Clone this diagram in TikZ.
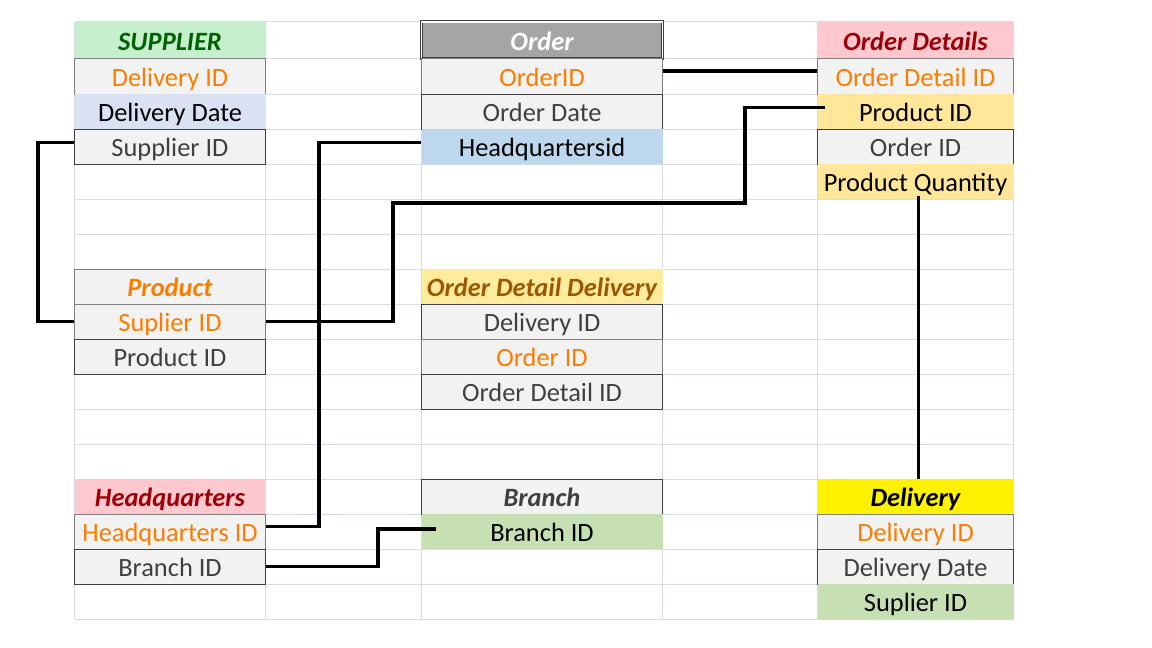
\documentclass[tikz,border=0pt]{standalone}
\usepackage{fontspec}
\setmainfont{Carlito}

\definecolor{gridline}{HTML}{D5DCE6}
\definecolor{cellGray}{HTML}{F2F2F2}
\definecolor{calcBorder}{HTML}{7F7F7F}
\definecolor{calcOrange}{HTML}{FA7D00}
\definecolor{outBorder}{HTML}{3F3F3F}
\definecolor{outText}{HTML}{3F3F3F}
\definecolor{goodFill}{HTML}{C6EFCE}
\definecolor{goodText}{HTML}{006100}
\definecolor{badFill}{HTML}{FFC7CE}
\definecolor{badText}{HTML}{9C0006}
\definecolor{neutralFill}{HTML}{FFEB9C}
\definecolor{neutralText}{HTML}{9C5700}
\definecolor{checkFill}{HTML}{A5A5A5}
\definecolor{paleBlue}{HTML}{D9E1F2}
\definecolor{midBlue}{HTML}{BDD7EE}
\definecolor{paleGold}{HTML}{FFE699}
\definecolor{paleGreen}{HTML}{C6E0B4}

\tikzset{
  cell/.style={inner sep=0pt, minimum height=26.25pt, text height=19pt, text depth=4.2pt,
    font=\fontsize{19.8}{22}\selectfont},
  hdr/.style={font=\fontsize{19.8}{22}\selectfont\bfseries\itshape},
  tallA/.style={minimum height=27.4pt},
  tallB/.style={minimum height=27pt},
  colA/.style={minimum width=143.25pt},
  colC/.style={minimum width=180.75pt},
  colE/.style={minimum width=147pt},
  calc/.style={fill=cellGray, draw=calcBorder, line width=0.75pt, text=calcOrange},
  outp/.style={fill=cellGray, draw=outBorder, line width=0.75pt, text=outText},
  link/.style={line width=2.5pt, black},
}

\begin{document}
\begin{tikzpicture}[x=0.75pt, y=-0.75pt]
    \useasboundingbox (0,0) rectangle (1152,648);

    % sheet grid
    \foreach \gx in {74.5,265.5,421.5,662.5,817.5,1013.5}
        \draw[gridline, line width=0.75pt] (\gx,22) -- (\gx,619.3);
    \draw[gridline, line width=0.75pt] (74.5,22) -- (1013.5,22);
    \draw[gridline, line width=0.75pt] (74.5,58.3) -- (1013.5,58.3);
    \foreach \r in {0,...,15}
        \draw[gridline, line width=0.75pt] (74.5,{94.3+35*\r}) -- (1013.5,{94.3+35*\r});

    % SUPPLIER
    \node[cell, colA, tallA, hdr, fill=goodFill, text=goodText] (supHead) at (170,40.2) {SUPPLIER};
    \node[cell, colA, tallB, calc] (supDelId) at (170,76.3) {Delivery ID};
    \node[cell, colA, fill=paleBlue] (supDelDate) at (170,111.8) {Delivery Date};
    \node[cell, colA, outp] (supSupId) at (170,146.8) {Supplier ID};

    % Order
    \node[cell, colC, tallA, hdr, fill=checkFill, text=white, draw=outBorder, line width=0.6pt,
          double=white, double distance=1pt] (ordHead) at (542,40.2) {Order};
    \node[cell, colC, tallB, calc] (ordId) at (542,76.3) {OrderID};
    \node[cell, colC, outp] (ordDate) at (542,111.8) {Order Date};
    \node[cell, colC, fill=midBlue] (ordHq) at (542,146.8) {Headquartersid};

    % Order Details
    \node[cell, colE, tallA, hdr, fill=badFill, text=badText] (odHead) at (915.5,40.2) {Order Details};
    \node[cell, colE, tallB, calc] (odId) at (915.5,76.3) {Order Detail ID};
    \node[cell, colE, fill=paleGold] (odProd) at (915.5,111.8) {Product ID};
    \node[cell, colE, outp] (odOrd) at (915.5,146.8) {Order ID};
    \node[cell, colE, fill=paleGold] (odQty) at (915.5,181.8) {Product Quantity};

    % Product
    \node[cell, colA, hdr, calc] (prHead) at (170,286.8) {Product};
    \node[cell, colA, calc] (prSup) at (170,321.8) {Suplier ID};
    \node[cell, colA, outp] (prId) at (170,356.8) {Product ID};

    % Order Detail Delivery
    \node[cell, colC, hdr, fill=neutralFill, text=neutralText] (oddHead) at (542,286.8) {Order Detail Delivery};
    \node[cell, colC, outp] (oddDel) at (542,321.8) {Delivery ID};
    \node[cell, colC, calc] (oddOrd) at (542,356.8) {Order ID};
    \node[cell, colC, outp] (oddOd) at (542,391.8) {Order Detail ID};

    % Headquarters
    \node[cell, colA, hdr, fill=badFill, text=badText] (hqHead) at (170,496.8) {Headquarters};
    \node[cell, colA, calc] (hqId) at (170,531.8) {Headquarters ID};
    \node[cell, colA, outp] (hqBranch) at (170,566.8) {Branch ID};

    % Branch
    \node[cell, colC, hdr, outp] (brHead) at (542,496.8) {Branch};
    \node[cell, colC, fill=paleGreen] (brId) at (542,531.8) {Branch ID};

    % Delivery
    \node[cell, colE, hdr, fill=yellow, text=black] (dlHead) at (915.5,496.8) {Delivery};
    \node[cell, colE, calc] (dlId) at (915.5,531.8) {Delivery ID};
    \node[cell, colE, outp] (dlDate) at (915.5,566.8) {Delivery Date};
    \node[cell, colE, fill=paleGreen] (dlSup) at (915.5,601.8) {Suplier ID};

    % relations
    \coordinate (supBend) at (38,0);
    \coordinate (hqBend) at (319,0);
    \coordinate (prBendA) at (745,203);
    \coordinate (prBendB) at (393,203);
    \coordinate (brBend) at (378,0);

    \draw[link] ([yshift=3pt]supSupId.west) -- ([yshift=3pt]supSupId.west -| supBend)
        -- (prSup.west -| supBend) -- (prSup.west);
    \draw[link] ([yshift=3pt]ordHq.west) -- ([yshift=3pt]ordHq.west -| hqBend)
        -- ([yshift=4pt]hqId.east -| hqBend) -- ([yshift=4pt]hqId.east);
    \draw[link] ([xshift=6pt,yshift=3pt]odProd.west) -| (prBendA) -- (prBendB)
        |- (prSup.east);
    \draw[link] ([yshift=4pt]ordId.east) -- ([yshift=4pt]odId.west);
    \draw[link] ([xshift=2pt,yshift=3pt]odQty.south) -- ([xshift=2pt]dlHead.north);
    \draw[link] (hqBranch.east) -- (hqBranch.east -| brBend)
        |- ([xshift=11pt,yshift=2pt]brId.west);
\end{tikzpicture}
\end{document}
